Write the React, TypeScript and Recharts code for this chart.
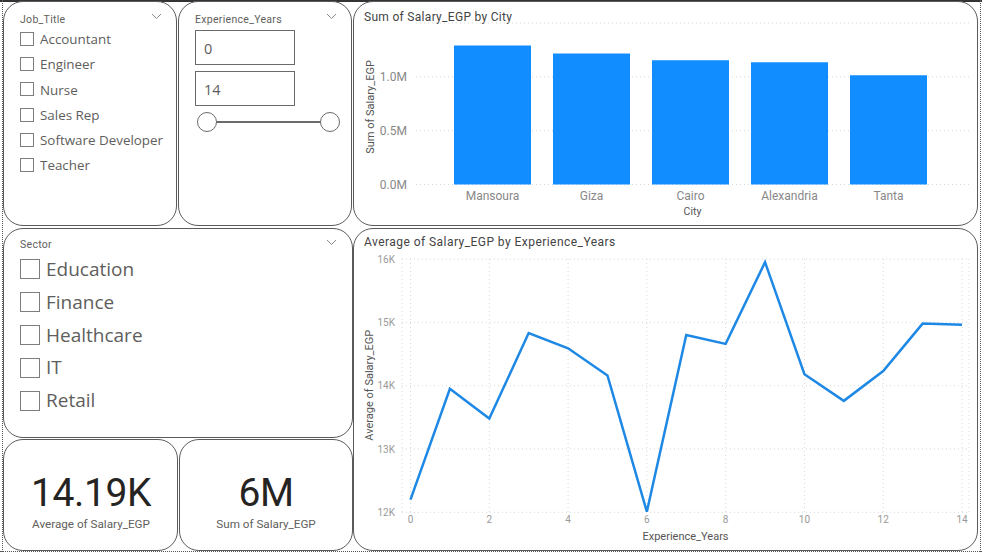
import React from 'react';
import { BarChart, Bar, LineChart, Line, XAxis, YAxis, CartesianGrid } from 'recharts';

const cities = ['Mansoura', 'Giza', 'Cairo', 'Alexandria', 'Tanta'];
const citySalary = [1.29, 1.217, 1.154, 1.136, 1.014];
const cityTicks = [0, 0.5, 1];

const years = [0, 1, 2, 3, 4, 5, 6, 7, 8, 9, 10, 11, 12, 13, 14];
const avgSalary = [12200, 13950, 13480, 14830, 14590, 14160, 12010, 14800, 14660, 15950, 14180, 13760, 14230, 14980, 14960];
const yearTicks = [0, 2, 4, 6, 8, 10, 12, 14];
const salaryTicks = [12000, 13000, 14000, 15000, 16000];

const jobTitles = ['Accountant', 'Engineer', 'Nurse', 'Sales Rep', 'Software Developer', 'Teacher'];
const sectors = ['Education', 'Finance', 'Healthcare', 'IT', 'Retail'];

const cityData = cities.map((city, i) => ({ city, value: citySalary[i] }));
const yearData = years.map((year, i) => ({ year, value: avgSalary[i] }));

const DIN = 'Roboto, "Open Sans", sans-serif';
const BODY = '"Open Sans", "Noto Sans", sans-serif';
const BLUE = '#118DFF';

function Panel({ x, y, w, h, r = 20, children }: any) {
  return (
    <div
      style={{
        position: 'absolute',
        left: x,
        top: y,
        width: w,
        height: h,
        boxSizing: 'border-box',
        border: '1.5px solid #5a5a5a',
        borderRadius: r,
        background: '#fff',
      }}
    >
      {children}
    </div>
  );
}

// everything below is placed in page coordinates, so no Panel nesting
function Txt({ x, y, size, color = '#605e5c', font = DIN, weight = 400, spacing = 0, children, center = false }: any) {
  return (
    <div
      style={{
        position: 'absolute',
        left: center ? x - 150 : x,
        width: center ? 300 : undefined,
        top: y - size,
        height: size * 2,
        lineHeight: `${size * 2}px`,
        fontSize: size,
        color,
        fontFamily: font,
        fontWeight: weight,
        letterSpacing: spacing,
        whiteSpace: 'nowrap',
        textAlign: center ? 'center' : 'left',
      }}
    >
      {children}
    </div>
  );
}

function Chevron({ x, y }: any) {
  return (
    <svg style={{ position: 'absolute', left: x, top: y }} width={11} height={7}>
      <path d="M1 1 L5.5 5.5 L10 1" fill="none" stroke="#8a8a8a" strokeWidth={1} />
    </svg>
  );
}

function Box({ x, y, size }: any) {
  return (
    <div
      style={{
        position: 'absolute',
        left: x,
        top: y,
        width: size,
        height: size,
        boxSizing: 'border-box',
        border: '1px solid #7d7d7d',
      }}
    />
  );
}

function InputBox({ y, value }: any) {
  return (
    <>
      <div
        style={{
          position: 'absolute',
          left: 195,
          top: y,
          width: 100,
          height: 35,
          boxSizing: 'border-box',
          border: '1px solid #6a6a6a',
        }}
      />
      <Txt x={204} y={y + 18.5} size={14.5} font={BODY}>{value}</Txt>
    </>
  );
}

function Knob({ x }: any) {
  return (
    <div
      style={{
        position: 'absolute',
        left: x,
        top: 112,
        width: 20,
        height: 20,
        boxSizing: 'border-box',
        border: '1.5px solid #6a6a6a',
        borderRadius: '50%',
        background: '#fff',
      }}
    />
  );
}

export default function App() {
  return (
    <div style={{ position: 'absolute', left: 0, top: 0, width: 982, height: 552, overflow: 'hidden', background: '#fff' }}>
      <div style={{ position: 'absolute', left: 0, top: 0, width: 982, height: 1.5, background: '#333' }} />
      <div style={{ position: 'absolute', left: 2, top: 0, height: 552, borderLeft: '1px dotted #555' }} />
      <div style={{ position: 'absolute', left: 980, top: 0, height: 552, borderLeft: '1px dotted #555' }} />
      <div style={{ position: 'absolute', left: 0, top: 551, width: 982, borderTop: '1px dotted #555' }} />

      <Panel x={3} y={1} w={174} h={225} />
      <Panel x={178} y={1} w={174} h={225} />
      <Panel x={353} y={1} w={625} h={225} />
      <Panel x={3} y={228} w={350} h={210} />
      <Panel x={3} y={439} w={175} h={112} />
      <Panel x={179} y={439} w={174} h={112} />
      <Panel x={353} y={228} w={625} h={323} />

      {/* job title slicer */}
      <Txt x={20} y={19} size={10.5} spacing={0.3}>Job_Title</Txt>
      <Chevron x={151} y={13} />
      {jobTitles.map((t, i) => (
        <React.Fragment key={t}>
          <Box x={20} y={32 + i * 25.2} size={14} />
          <Txt x={40} y={39.5 + i * 25.2} size={13.4} font={BODY}>{t}</Txt>
        </React.Fragment>
      ))}

      {/* experience slicer */}
      <Txt x={195} y={19} size={10.5} spacing={0.3}>Experience_Years</Txt>
      <Chevron x={326} y={13} />
      <InputBox y={30} value="0" />
      <InputBox y={71} value="14" />
      <div style={{ position: 'absolute', left: 206, top: 121, width: 124, height: 2, background: '#6a6a6a' }} />
      <Knob x={197} />
      <Knob x={320} />

      {/* sector slicer */}
      <Txt x={20} y={244} size={10.5} spacing={0.3}>Sector</Txt>
      <Chevron x={326} y={239} />
      {sectors.map((t, i) => (
        <React.Fragment key={t}>
          <Box x={20} y={259 + i * 32.9} size={20} />
          <Txt x={46} y={268.7 + i * 32.9} size={19} font={BODY}>{t}</Txt>
        </React.Fragment>
      ))}

      {/* cards */}
      <Txt x={91} y={493} size={39} color="#252423" spacing={-0.4} center>14.19K</Txt>
      <Txt x={91} y={525} size={11.7} center>Average of Salary_EGP</Txt>
      <Txt x={266} y={493} size={39} color="#252423" spacing={-0.4} center>6M</Txt>
      <Txt x={266} y={525} size={11.7} center>Sum of Salary_EGP</Txt>

      {/* bar chart */}
      <Txt x={364} y={16.5} size={12} color="#444" spacing={0.3}>Sum of Salary_EGP by City</Txt>
      <div style={{ position: 'absolute', left: 353, top: 1 }}>
        <BarChart
          width={625}
          height={225}
          data={cityData}
          margin={{ top: 22, right: 9, bottom: 11.5, left: 0 }}
          barCategoryGap={0}
        >
          <CartesianGrid vertical={false} stroke="#d8d8d8" strokeDasharray="1 3" />
          <XAxis
            dataKey="city"
            height={30}
            padding={{ left: 27, right: 31 }}
            tickLine={false}
            axisLine={false}
            tickSize={0}
            tickMargin={7}
            interval={0}
            tick={{ fontSize: 12, fill: '#888', fontFamily: DIN }}
            label={{ value: 'City', position: 'insideBottom', offset: 0, fontSize: 10.5, fill: '#555', fontFamily: DIN }}
          />
          <YAxis
            width={63}
            domain={[0, 1.5]}
            ticks={cityTicks}
            tickFormatter={(v: number) => `${v.toFixed(1)}M`}
            tickLine={false}
            axisLine={false}
            tickSize={0}
            tickMargin={9}
            tick={{ fontSize: 12, fill: '#888', fontFamily: DIN }}
            label={{ value: 'Sum of Salary_EGP', angle: -90, position: 'insideLeft', offset: 17, dy: 50, fontSize: 11, fill: '#555', fontFamily: DIN }}
          />
          <Bar dataKey="value" fill={BLUE} barSize={77} isAnimationActive={false} />
        </BarChart>
      </div>

      {/* line chart */}
      <Txt x={364} y={242} size={12} color="#444" spacing={0.45}>Average of Salary_EGP by Experience_Years</Txt>
      <div style={{ position: 'absolute', left: 353, top: 228 }}>
        <LineChart
          width={625}
          height={323}
          data={yearData}
          margin={{ top: 31, right: 9, bottom: 10.7, left: 0 }}
        >
          <CartesianGrid stroke="#d8d8d8" strokeDasharray="1 3" />
          <XAxis
            dataKey="year"
            type="number"
            domain={[0, 14]}
            ticks={yearTicks}
            height={28}
            padding={{ left: 8.5, right: 7 }}
            tickLine={false}
            axisLine={false}
            tickSize={0}
            tickMargin={4}
            tick={{ fontSize: 10, fill: '#999', fontFamily: DIN }}
            label={{ value: 'Experience_Years', position: 'insideBottom', offset: 0, fontSize: 11, fill: '#555', fontFamily: DIN }}
          />
          <YAxis
            width={49}
            domain={[12000, 16000]}
            ticks={salaryTicks}
            tickFormatter={(v: number) => `${v / 1000}K`}
            tickLine={false}
            axisLine={false}
            tickSize={0}
            tickMargin={7}
            tick={{ fontSize: 10, fill: '#999', fontFamily: DIN }}
            label={{ value: 'Average of Salary_EGP', angle: -90, position: 'insideLeft', offset: 16, dy: 55, fontSize: 11, fill: '#555', fontFamily: DIN }}
          />
          <Line dataKey="value" type="linear" stroke="#1E88E5" strokeWidth={2.5} dot={false} isAnimationActive={false} />
        </LineChart>
      </div>
    </div>
  );
}
